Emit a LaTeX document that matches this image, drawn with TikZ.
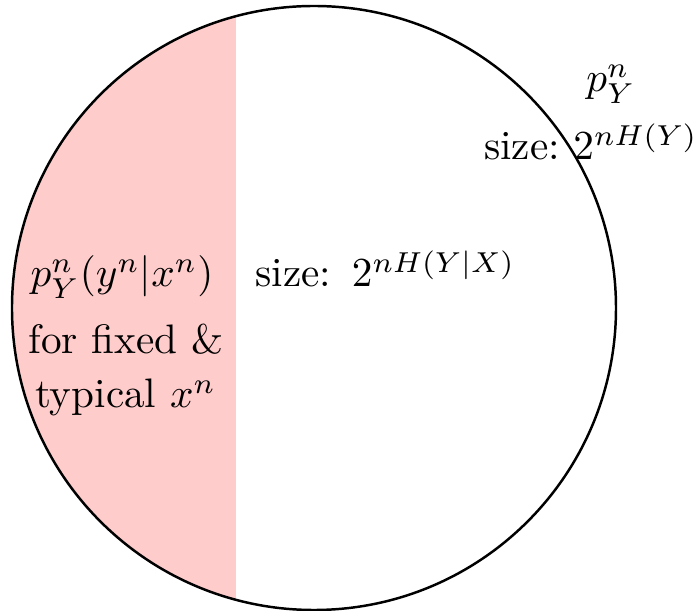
\documentclass[tikz,border=0pt]{standalone}
\begin{document}
\begin{tikzpicture}[x=0.2427pt,y=-0.2427pt,
  lbl/.style={inner sep=0pt,anchor=base}]
\useasboundingbox (0,0) rectangle (698,611);
\coordinate (c) at (314,308);
\begin{scope}
  \clip (c) circle[radius=73.3pt];
  \fill[red!20] (0,0) rectangle (235.7,611);
\end{scope}
\draw[line width=0.6pt] (c) circle[radius=73.3pt];
\node[lbl] (pcond) at (122,287) {$p_Y^n(y^n|x^n)$};
\node[lbl] (fixed) at (126,354) {for fixed \&};
\node[lbl] (typ) at (125.6,408) {typical $x^n$};
\node[lbl] (sizecond) at (385.5,287) {size:\ \,$2^{nH(Y|X)}$};
\node[lbl] (py) at (611,92) {$p_Y^n$};
\node[lbl] (size) at (591,160) {size:~$2^{nH(Y)}$};
\end{tikzpicture}
\end{document}
